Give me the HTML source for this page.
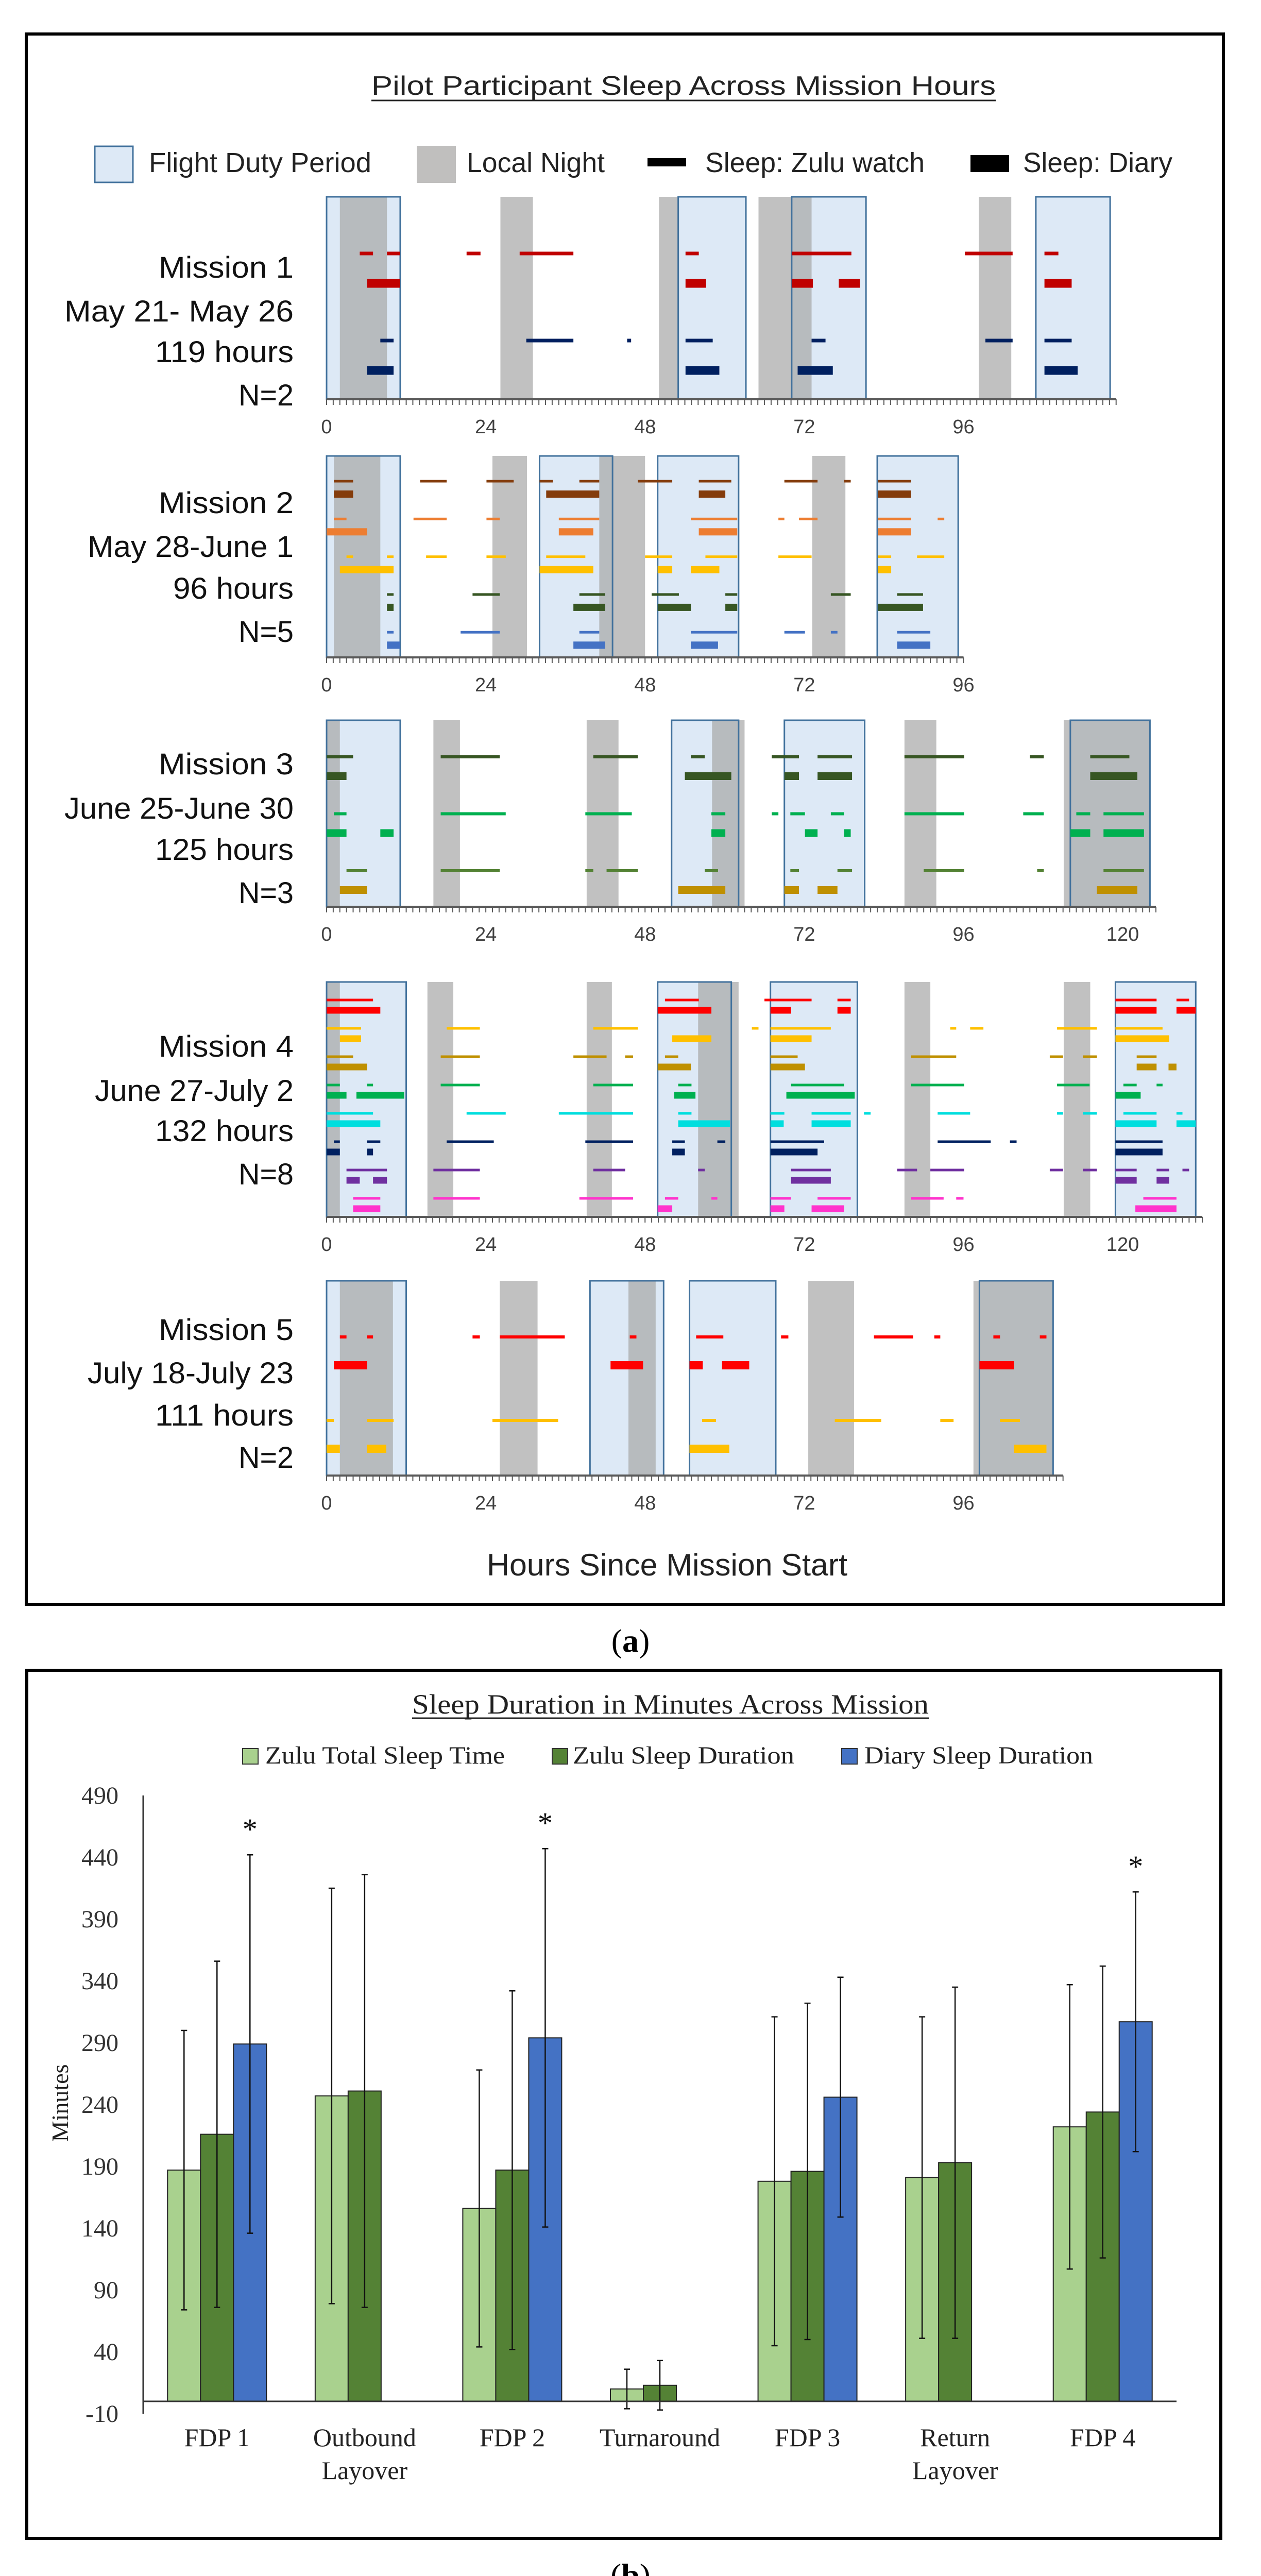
<!DOCTYPE html>
<html><head><meta charset="utf-8"><title>Pilot Sleep</title>
<style>html,body{margin:0;padding:0;background:#fff;width:2448px;height:5072px;overflow:hidden}svg{display:block}</style></head>
<body>
<svg id="fig" xmlns="http://www.w3.org/2000/svg" width="2448" height="5072" viewBox="0 0 2448 5072">
<rect x="0" y="0" width="2448" height="5072" fill="#fff"/>
<rect x="51" y="66" width="2324" height="3048" fill="none" stroke="#000" stroke-width="6"/>
<text x="721" y="184" font-family="Liberation Sans, sans-serif" font-size="52" textLength="1212" lengthAdjust="spacingAndGlyphs" fill="#222">Pilot Participant Sleep Across Mission Hours</text>
<line x1="721" y1="195" x2="1933" y2="195" stroke="#222" stroke-width="3"/>
<g font-family="Liberation Sans, sans-serif" font-size="54" fill="#222">
 <rect x="184" y="284" width="74" height="70" fill="#dde9f6" stroke="#41719c" stroke-width="3"/>
 <text x="289" y="334" textLength="432" lengthAdjust="spacingAndGlyphs">Flight Duty Period</text>
 <rect x="809" y="283" width="76" height="72" fill="#c0bfbe"/>
 <text x="906" y="334" textLength="268" lengthAdjust="spacingAndGlyphs">Local Night</text>
 <rect x="1257" y="307" width="75" height="16" fill="#000"/>
 <text x="1369" y="334" textLength="426" lengthAdjust="spacingAndGlyphs">Sleep: Zulu watch</text>
 <rect x="1884" y="301" width="75" height="33" fill="#000"/>
 <text x="1986" y="334" textLength="290" lengthAdjust="spacingAndGlyphs">Sleep: Diary</text>
</g>
<g id="missions"></g>
<text x="945" y="3058" font-family="Liberation Sans, sans-serif" font-size="60" textLength="700" lengthAdjust="spacingAndGlyphs" fill="#222">Hours Since Mission Start</text>
<text x="1224" y="3206" text-anchor="middle" font-family="Liberation Serif, serif" font-size="64" fill="#000">(<tspan font-weight="bold">a</tspan>)</text>

<rect x="52" y="3242" width="2318" height="1685" fill="none" stroke="#000" stroke-width="6"/>
<text x="800" y="3326" font-family="Liberation Serif, serif" font-size="54" textLength="1003" lengthAdjust="spacingAndGlyphs" fill="#222">Sleep Duration in Minutes Across Mission</text>
<line x1="800" y1="3335" x2="1803" y2="3335" stroke="#222" stroke-width="3"/>
<g font-family="Liberation Serif, serif" font-size="48" fill="#222">
 <rect x="471" y="3394" width="30" height="30" fill="#a9d18e" stroke="#333" stroke-width="2"/>
 <text x="515" y="3423" textLength="465" lengthAdjust="spacingAndGlyphs">Zulu Total Sleep Time</text>
 <rect x="1072" y="3394" width="30" height="30" fill="#548235" stroke="#333" stroke-width="2"/>
 <text x="1112" y="3423" textLength="430" lengthAdjust="spacingAndGlyphs">Zulu Sleep Duration</text>
 <rect x="1634" y="3394" width="30" height="30" fill="#4472c4" stroke="#333" stroke-width="2"/>
 <text x="1678" y="3423" textLength="444" lengthAdjust="spacingAndGlyphs">Diary Sleep Duration</text>
</g>
<g id="bars"></g>
<text x="1224" y="5020" text-anchor="middle" font-family="Liberation Serif, serif" font-size="64" fill="#000">(<tspan font-weight="bold">b</tspan>)</text>
</svg>
<script>
// ---------- Panel (a) data: hours since mission start ----------
const m1Fdp=[[0,11.1],[53,63.2],[70.1,81.3],[106.9,118.1]];
const m1Night=[[2,9.1],[26.2,31.1],[50.1,53.1],[65.1,73.1],[98.3,103.2]];
const m1Zulu=[
 [[5,7],[9.1,11.1],[21.1,23.2],[29.1,37.2],[54.1,56.1],[70.1,79.1],[96.2,103.4],[108.2,110.3]],
 [[8.1,10.1],[30.1,37.2],[45.3,45.9],[54.1,58.2],[73.1,75.2],[99.3,103.4],[108.2,112.3]]];
const m1Diary=[
 [[6.1,11.1],[54.1,57.2],[70.1,73.3],[77.2,80.4],[108.2,112.3]],
 [[6.1,10.1],[54.1,59.2],[71,76.3],[108.2,113.2]]];

const m2Fdp=[[0,11.1],[32.1,43.1],[49.9,62.1],[83,95.2]];
const m2Night=[[1.1,8.1],[25,30.2],[41.1,48],[73.2,78.2]];
const m2Zulu=[
 [[1.1,4],[14.1,18.1],[24.1,28.2],[32.1,34.1],[38.1,41.1],[46.9,52.1],[56.1,61],[69,74],[78,79],[83.1,88.1]],
 [[1.1,3],[13.1,18.1],[24.1,26.1],[35,41.1],[54.9,61.9],[68.1,69],[71.2,74],[83.1,88.1],[92.1,93.1]],
 [[3,4],[9.1,10.1],[15,18.1],[24.1,27],[33.1,39],[48,52.1],[57.1,61.9],[68.1,73.1],[83.1,85.1],[89,93.1]],
 [[9.1,10.1],[22,26.1],[38.1,42],[49,53.1],[60.1,61.9],[76,79],[86,89.9]],
 [[9.1,10.1],[20.2,26.1],[38.1,41.1],[54.9,61.9],[69,72.1],[76,77],[86,91]]];
const m2Diary=[
 [[1.1,4],[33.1,41.1],[56.1,60.1],[83.1,88.1]],
 [[0,6.1],[35,40.2],[56.1,61.9],[83.1,88.1]],
 [[2,10.1],[32.1,40.2],[49.9,52.1],[54.9,59.2],[83.1,85.1]],
 [[9.1,10.1],[37.2,42],[49.9,54.9],[60.1,61.9],[83.1,89.9]],
 [[9.1,11.1],[37.2,42],[54.9,59],[86,91]]];

const m3Fdp=[[0,11.1],[52,62.1],[69,81.1],[112.1,124.1]];
const m3Night=[[0,2],[16.1,20.1],[39.2,44],[58.1,63],[87.1,91.9],[111.1,124.1]];
const m3Zulu=[
 [[0,4],[17.2,26.1],[40.2,46.9],[54.9,57],[67.1,71.2],[74,79.2],[87.1,96.1],[106,108.1],[115.1,121]],
 [[1.1,3],[17.2,27],[39,46],[58,60.1],[67.1,68.1],[69.9,72.1],[76,78],[87.1,96.1],[105,108.1],[113,115.1],[117.1,123.2]],
 [[3,6.1],[17.2,26.1],[39,40.2],[42.2,46.9],[57,59],[69.9,71.2],[77,79.2],[90,96.1],[107.1,108.1],[117.1,123.2]]];
const m3Diary=[
 [[0,3],[54,61],[69,71.2],[74,79.2],[115.1,122.2]],
 [[0,3],[8.1,10.1],[58,60.1],[72.1,74],[78,79],[112.1,115.1],[117.1,123.2]],
 [[2,6.1],[53,60.1],[69,71.2],[74,77],[116.1,122.2]]];

const m4Fdp=[[0,12],[49.9,61],[66.9,80],[118.9,131]];
const m4Night=[[0,2],[15.2,19.1],[39.2,43],[56,62.1],[87.1,91],[111.1,115.1]];
const m4Zulu=[
 [[0,7],[51,56.1],[66,73.1],[77,79],[118.9,125.1],[128.1,130]],
 [[0,5.2],[18.1,23.1],[40.2,46.9],[64.1,65.1],[66.9,76],[94,94.9],[97,99],[110.1,116.1],[118.9,126]],
 [[0,4],[17.2,23.1],[37.2,42.2],[45,46.2],[51,53],[66.9,71],[88.1,94.9],[109,111],[114,116.1],[122.1,125.1]],
 [[0,2],[6.1,7],[17.2,23.1],[40.2,46.2],[53,55],[70,78],[88.1,96.1],[110.1,115],[120.1,122.1],[125.1,126]],
 [[0,7],[21.1,27],[35,46.2],[53,55],[66.9,69],[73.1,79],[81,82],[92.1,97],[110.1,111],[114,116.1],[120.1,125.1],[128.1,129]],
 [[1.1,2],[6.1,8.1],[18.1,25.2],[39,46.2],[52.1,54],[58.9,60.1],[66.9,75],[92.1,100.1],[103,104],[118.9,126]],
 [[3,9.1],[16.1,23.1],[40.2,45],[56,57],[70,76],[86,89],[91,96.1],[109,111],[114,116.1],[118.9,122.1],[125.1,127],[129,130]],
 [[4,8.1],[16.1,23.1],[38.1,46.2],[51,53],[58,58.9],[66.9,70],[74,79],[88.1,93],[94.9,96],[123.1,128.1]]];
const m4Diary=[
 [[0,8.1],[49.9,58],[66.9,70],[77,79],[118.9,125.1],[128.1,131]],
 [[2,5.2],[52.1,58],[66.9,73.1],[118.9,127]],
 [[0,6.1],[49.9,54.9],[66.9,72.1],[122.1,125.1],[126.9,128.1]],
 [[0,3],[4.5,11.7],[52.4,55.6],[69.3,79.6],[118.9,122.7]],
 [[0,8.1],[53,60.8],[66.9,68.9],[73.1,79],[118.9,125.1],[128.1,131]],
 [[0,2],[6.1,7],[52.1,54],[66.9,74],[118.9,126]],
 [[3,5],[7,9.1],[70,76],[118.9,122.1],[125.1,127]],
 [[4,8.1],[49.9,52.1],[66.9,69],[73.1,78],[121.9,128.1]]];

const m5Fdp=[[0,12],[39.7,50.8],[54.7,67.7],[98.4,109.5]];
const m5Night=[[2,10],[26.1,31.8],[45.5,49.6],[72.6,79.5],[97.5,109.5]];
const m5Zulu=[
 [[2,3],[6.1,7],[22,23.1],[26.1,35.9],[45.7,46.7],[55.7,59.8],[68.5,69.6],[82.5,88.4],[91.6,92.5],[100.5,101.5],[107.5,108.5]],
 [[0,1.1],[6.1,10.1],[25,34.9],[56.6,58.7],[76.6,83.6],[92.5,94.5],[101.5,104.5]]];
const m5Diary=[
 [[1.1,6.1],[42.8,47.7],[54.7,56.7],[59.6,63.7],[98.4,103.6]],
 [[0,2],[6.1,9],[54.7,60.7],[103.6,108.5]]];

const missionHours=[119,96,125,132,111];
const missionTitles=["Mission 1","Mission 2","Mission 3","Mission 4","Mission 5"];
const missionDates=["May 21- May 26","May 28-June 1","June 25-June 30","June 27-July 2","July 18-July 23"];
const missionN=["N=2","N=5","N=3","N=8","N=2"];
const hourTicks=[0,24,48,72,96,120];

// ---------- Panel (b) data ----------
const categories=[["FDP 1"],["Outbound","Layover"],["FDP 2"],["Turnaround"],["FDP 3"],["Return","Layover"],["FDP 4"]];
const zuluTST=[187,247,156,10,178,181,222];
const zuluSD=[216,251,187,13,186,193,234];
const diarySD=[289,null,294,null,246,null,307];
const zuluTSTerr=[113,168,112,16,133,130,115];
const zuluSDerr=[140,175,145,20,136,142,118];
const diarySDerr=[153,null,153,null,97,null,105];
const significant=[true,false,true,false,false,false,true];
const yTicks=[490,440,390,340,290,240,190,140,90,40,-10];

// ---------- layout ----------
const NS="http://www.w3.org/2000/svg";
function mk(tag,attrs,parent){const e=document.createElementNS(NS,tag);for(const k in attrs)e.setAttribute(k,attrs[k]);parent.appendChild(e);return e;}
const X0=634,K=12.88;
const hx=h=>X0+h*K;

const layout=[
 {top:382,axis:775,z0:492,sp:169,dOff:58,zt:7,dt:17,zc:["#c00000","#002060"],dc:["#c00000","#002060"],lab:[519,604,683,767],w:[262,445,269,107]},
 {top:885,axis:1276,z0:934,sp:73.3,dOff:25,zt:5,dt:14,zc:["#843c0c","#ed7d31","#ffc000","#375623","#4472c4"],dc:["#843c0c","#ed7d31","#ffc000","#375623","#4472c4"],lab:[976,1061,1142,1226],w:[262,400,234,107]},
 {top:1398,axis:1760,z0:1469,sp:110.5,dOff:37.5,zt:6,dt:15,zc:["#375623","#00b050","#548235"],dc:["#375623","#00b050","#bf9000"],lab:[1483,1569,1649,1733],w:[262,445,269,107]},
 {top:1906,axis:2362,z0:1941,sp:55,dOff:20,zt:5,dt:13,zc:["#ff0000","#ffc000","#bf9000","#00b050","#00dede","#002060","#7030a0","#ff33cc"],dc:["#ff0000","#ffc000","#bf9000","#00b050","#00dede","#002060","#7030a0","#ff33cc"],lab:[2031,2117,2195,2279],w:[262,386,269,107]},
 {top:2486,axis:2864,z0:2595,sp:162,dOff:55,zt:6,dt:16,zc:["#ff0000","#ffc000"],dc:["#ff0000","#ffc000"],lab:[2581,2665,2747,2829],w:[262,400,269,107]}
];
const fdps=[m1Fdp,m2Fdp,m3Fdp,m4Fdp,m5Fdp];
const nights=[m1Night,m2Night,m3Night,m4Night,m5Night];
const zulus=[m1Zulu,m2Zulu,m3Zulu,m4Zulu,m5Zulu];
const diaries=[m1Diary,m2Diary,m3Diary,m4Diary,m5Diary];

const mg=document.getElementById("missions");
layout.forEach((L,mi)=>{
 const g=mk("g",{},mg);
 
 
 const H=L.axis-L.top;
 fdps[mi].forEach(f=>{const r=mk("rect",{x:hx(f[0]),y:L.top,width:(f[1]-f[0])*K,height:H,fill:"#dde9f6"},g);
  
  });
 nights[mi].forEach(n=>{const r=mk("rect",{x:hx(n[0]),y:L.top,width:(n[1]-n[0])*K,height:H,fill:"#a6a6a6","fill-opacity":0.7},g);
  
  });
 fdps[mi].forEach(f=>{const r=mk("rect",{x:hx(f[0]),y:L.top,width:(f[1]-f[0])*K,height:H,fill:"none",stroke:"#41719c","stroke-width":3},g);
  
  });
 zulus[mi].forEach((segs,pi)=>{const y=L.z0+pi*L.sp;
  segs.forEach(s=>{const r=mk("rect",{x:hx(s[0]),y:y-L.zt/2,width:(s[1]-s[0])*K,height:L.zt,fill:L.zc[pi]},g);
   
   });});
 diaries[mi].forEach((segs,pi)=>{const y=L.z0+pi*L.sp+L.dOff;
  segs.forEach(s=>{const r=mk("rect",{x:hx(s[0]),y:y-L.dt/2,width:(s[1]-s[0])*K,height:L.dt,fill:L.dc[pi]},g);
   
   });});
 const hrs=missionHours[mi];
 const ax=mk("line",{x1:hx(0),y1:L.axis,x2:hx(hrs),y2:L.axis,stroke:"#595959","stroke-width":4},g);
 
 
 let d="";for(let h=0;h<=hrs;h++){d+="M"+hx(h)+" "+L.axis+"v11";}
 const tk=mk("path",{d:d,stroke:"#595959","stroke-width":2},g);
 
 
 hourTicks.filter(t=>t<=hrs).forEach(t=>{const tx=mk("text",{x:hx(t),y:L.axis+66,"text-anchor":"middle","font-family":"Liberation Sans, sans-serif","font-size":38,fill:"#404040"},g);
  tx.textContent=t;
  
  });
 const lines=[missionTitles[mi],missionDates[mi],missionHours[mi]+" hours",missionN[mi]];
 lines.forEach((s,li)=>{const tx=mk("text",{x:570-L.w[li],y:L.lab[li]+20,"font-family":"Liberation Sans, sans-serif","font-size":58,fill:"#111",textLength:L.w[li],lengthAdjust:"spacingAndGlyphs"},g);
  tx.textContent=s;
  
  });
});

// ---------- Panel (b) ----------
const bg=document.getElementById("bars");
const AX=278,AR=2284,CW=(AR-AX)/categories.length,BW=64;
const yv=v=>4661-2.4*v;
const va=mk("line",{x1:AX,y1:yv(490),x2:AX,y2:yv(-10),stroke:"#333","stroke-width":3},bg);


yTicks.forEach(t=>{const tx=mk("text",{x:230,y:yv(t)+16,"text-anchor":"end","font-family":"Liberation Serif, serif","font-size":48,fill:"#333"},bg);
 tx.textContent=t;
 
 });
const yt=mk("text",{x:0,y:0,transform:"translate(132,4082) rotate(-90)","text-anchor":"middle","font-family":"Liberation Serif, serif","font-size":46,fill:"#222"},bg);
yt.textContent="Minutes";


const series=[[zuluTST,zuluTSTerr,"#a9d18e","zulu-tst"],[zuluSD,zuluSDerr,"#548235","zulu-sd"],[diarySD,diarySDerr,"#4472c4","diary-sd"]];
categories.forEach((c,i)=>{
 const cx=AX+(i+0.5)*CW;
 series.forEach((s,j)=>{const v=s[0][i];if(v==null)return;
  const x=cx-1.5*BW+j*BW;
  const r=mk("rect",{x:x,y:yv(v),width:BW,height:yv(0)-yv(v),fill:s[2],stroke:"#222","stroke-width":2},bg);
  
  
  const e=s[1][i],ex=x+BW/2;
  const eb=mk("path",{d:"M"+ex+" "+yv(v+e)+"V"+yv(v-e)+"M"+(ex-6)+" "+yv(v+e)+"h12M"+(ex-6)+" "+yv(v-e)+"h12",stroke:"#111","stroke-width":2.5,fill:"none"},bg);
  
  
  if(j===2&&significant[i]){const st=mk("text",{x:ex,y:yv(v+e)-30,"text-anchor":"middle","font-family":"Liberation Serif, serif","font-size":58,fill:"#111"},bg);
   st.textContent="*";
   
   }
 });
 c.forEach((ln,k)=>{const tx=mk("text",{x:cx,y:4748+k*64,"text-anchor":"middle","font-family":"Liberation Serif, serif","font-size":50,fill:"#222"},bg);
  tx.textContent=ln;
  
  });
});
const xa=mk("line",{x1:AX,y1:yv(0),x2:AR,y2:yv(0),stroke:"#333","stroke-width":3},bg);


</script>
</body></html>
